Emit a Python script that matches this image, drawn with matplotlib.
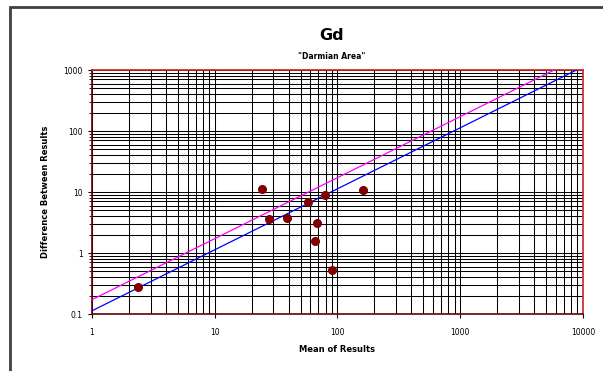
import numpy as np
import matplotlib.pyplot as plt
from matplotlib.patches import Rectangle

# data
mean_res = [2.37, 24.1, 27.5, 38.8, 57.1, 68.1, 65.2, 79.1, 90.7, 160]
diff_res = [0.28, 11.3, 3.6, 3.75, 6.86, 3.07, 1.57, 9.04, 0.53, 10.9]
line_x = [1, 10000]
blue_y = [0.113, 1130]
pink_y = [0.172, 1720]

fig = plt.figure(figsize=(6.03, 3.71), dpi=100)
# outer chart frame (runs off the right and bottom edges)
fig.patches.append(Rectangle((0.016, -0.05), 1.05, 1.031, transform=fig.transFigure,
                             fill=False, edgecolor='#404040', linewidth=2))
ax = fig.add_axes([0.1526, 0.1536, 0.8142, 0.6577])
ax.set_xscale('log')
ax.set_yscale('log')
ax.set_xlim(1, 10000)
ax.set_ylim(0.1, 1000)

ax.grid(True, which='both', color='black', linewidth=0.75)
ax.set_axisbelow(True)

ax.plot(line_x, blue_y, color='#0000ff', lw=0.9, zorder=3)
ax.plot(line_x, pink_y, color='#ff00ff', lw=0.9, zorder=3)
ax.plot(mean_res, diff_res, 'o', color='#800000', ms=5.5, zorder=4)

for s in ['top', 'right']:
    ax.spines[s].set_color('#cc2222')
for s in ['left', 'bottom']:
    ax.spines[s].set_color('#660000')
for s in ax.spines.values():
    s.set_linewidth(1.2)

ax.set_xticks([1, 10, 100, 1000, 10000])
ax.set_xticklabels(['1', '10', '100', '1000', '10000'])
ax.set_yticks([0.1, 1, 10, 100, 1000])
ax.set_yticklabels(['0.1', '1', '10', '100', '1000'])
ax.tick_params(axis='both', which='major', labelsize=5.5, length=3, direction='out')
ax.tick_params(axis='x', which='minor', length=0)
ax.tick_params(axis='y', which='minor', length=2, direction='out')
ax.tick_params(axis='x', pad=7)

fig.text(0.55, 0.905, 'Gd', ha='center', va='center', fontsize=11.5, fontweight='bold')
fig.text(0.55, 0.848, '"Darmian Area"', ha='center', va='center', fontsize=5.5, fontweight='bold')
ax.set_xlabel('Mean of Results', fontsize=6, fontweight='bold', labelpad=6)
ax.set_ylabel('Difference Between Results', fontsize=6, fontweight='bold', labelpad=10)

fig.savefig('out.png', dpi=100)
